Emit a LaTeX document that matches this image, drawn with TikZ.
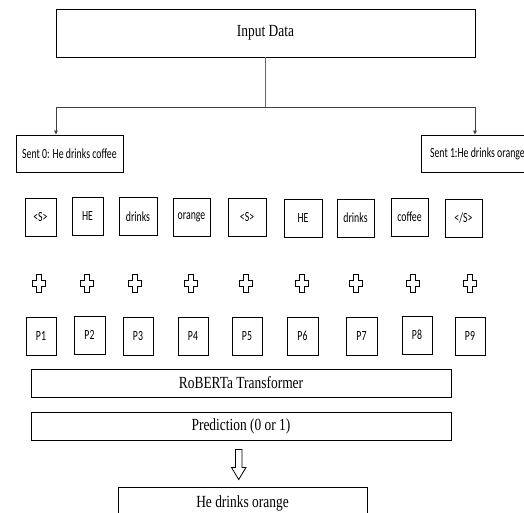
\documentclass[tikz,border=0pt]{standalone}
\usepackage{fontspec}
\setmainfont{Liberation Serif}[FakeStretch=0.79]
\newfontfamily\carl{Carlito}[FakeStretch=0.70]
\usetikzlibrary{arrows.meta,calc}
\tikzset{
  box/.style={draw=black, line width=0.9pt, inner sep=0pt, anchor=center},
  bigbox/.style={box, font=\fontsize{17}{19}\selectfont},
  tok/.style={box, minimum height=38pt, font=\carl\fontsize{14}{16}\selectfont},
  sent/.style={box, minimum height=37pt, font=\carl\fontsize{14}{16}\selectfont},
  link/.style={draw=black!60, line width=0.8pt},
  plusmark/.style={draw=black, line width=0.8pt, fill=white},
}
\newcommand{\plusat}[1]{%
  \draw[plusmark] ($(#1)+(-2.3,-9)$) -- ++(4.6,0) -- ++(0,6) -- ++(4.2,0) -- ++(0,6) -- ++(-4.2,0) -- ++(0,6) -- ++(-4.6,0) -- ++(0,-6) -- ++(-4.2,0) -- ++(0,-6) -- ++(4.2,0) -- cycle;}
\begin{document}
\begin{tikzpicture}[x=1pt,y=-1pt]
\useasboundingbox (0,0) rectangle (524,513);
\clip (0,0) rectangle (524,513);
% top
\node[bigbox, minimum width=419pt, minimum height=48pt] (input) at (265.5,33) {Input Data};
\node[sent, minimum width=107pt] (s0) at (69.5,153.5) {Sent 0: He drinks coffee};
\node[sent, minimum width=112pt, anchor=west, inner xsep=2.5pt] (s1) at (421,153.5) {Sent 1:He drinks orange\hspace{12pt}};
\coordinate (split) at (265.5,107);
\coordinate (j0) at (56,107);
\coordinate (j1) at (475,107);
\draw[link] (input.south) -- (split);
\draw[link, draw=black!75] (j0) -- (j1);
\draw[link, draw=black!75, -{Triangle[length=4pt,width=3.5pt]}] (j0) -- (j0 |- s0.north);
\draw[link, draw=black!75, -{Triangle[length=4pt,width=3.5pt]}] (j1) -- (j1 |- s1.north);
% tokens
\node[tok, minimum width=31pt] (t1) at (40.5,217) {<S>};
\node[tok, minimum width=31pt] (t2) at (87.5,216.5) {HE};
\node[tok, minimum width=38pt] (t3) at (138,216.5) {drinks};
\node[tok, minimum width=37pt] (t4) at (191.5,217) {orange};
\node[tok, minimum width=38pt] (t5) at (247,217) {<S>};
\node[tok, minimum width=38pt] (t6) at (303,218.5) {HE};
\node[tok, minimum width=37pt] (t7) at (355.5,218) {drinks};
\node[tok, minimum width=37pt] (t8) at (409.5,217) {coffee};
\node[tok, minimum width=37pt] (t9) at (463.5,218) {</S>};
% plus marks
\foreach \n/\x in {1/39,2/87,3/135,4/191,5/246,6/302,7/356,8/413,9/470}{
  \coordinate (c\n) at (\x,283);
  \plusat{c\n}
}
% positions
\node[tok, minimum width=30pt] (p1) at (41,336) {P1};
\node[tok, minimum width=31pt] (p2) at (89.5,335) {P2};
\node[tok, minimum width=30pt] (p3) at (138,336) {P3};
\node[tok, minimum width=30pt] (p4) at (193,336) {P4};
\node[tok, minimum width=30pt] (p5) at (247,336) {P5};
\node[tok, minimum width=31pt] (p6) at (302.5,336) {P6};
\node[tok, minimum width=31pt] (p7) at (361.5,336) {P7};
\node[tok, minimum width=30pt] (p8) at (417,335) {P8};
\node[tok, minimum width=30pt] (p9) at (470,336) {P9};
% model
\node[bigbox, minimum width=420pt, minimum height=28pt] (rob) at (241,383) {RoBERTa Transformer};
\node[bigbox, minimum width=420pt, minimum height=28pt] (pred) at (241,426) {Prediction (0 or 1)};
\node[bigbox, minimum width=249pt, minimum height=32pt] (out) at (242.5,503) {He drinks orange};
% hollow arrow
\coordinate (atop) at ($(pred.south)+(-2.3,9)$);
\coordinate (atip) at ($(out.north)+(-3.8,-7)$);
\draw[line width=0.8pt, fill=white] ($(atop)+(-3.3,0)$) -- ($(atop)+(3.3,0)$) -- ($(atip)+(3.3,-12)$) -- ($(atip)+(7.2,-12)$) -- (atip) -- ($(atip)+(-7.2,-12)$) -- ($(atip)+(-3.3,-12)$) -- cycle;
\end{tikzpicture}
\end{document}
